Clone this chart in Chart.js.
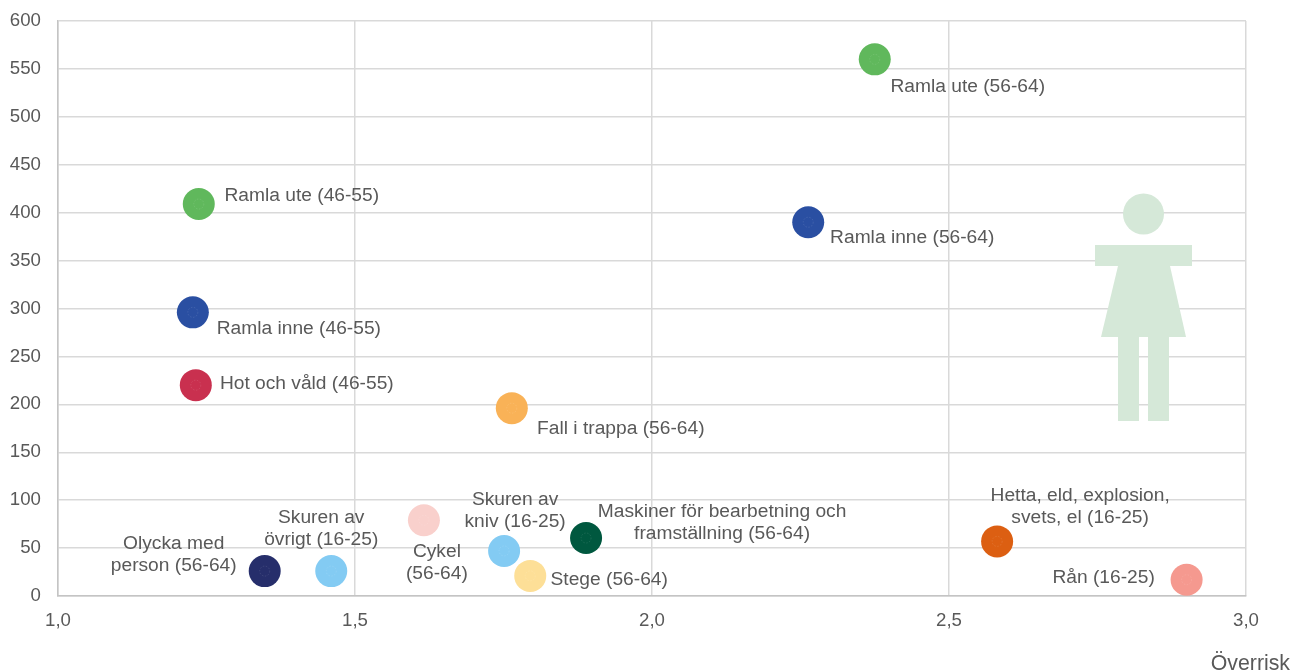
<!DOCTYPE html>
<html><head><meta charset="utf-8">
<style>html,body{margin:0;padding:0;background:#fff}canvas{display:block}</style>
<script src="https://cdn.jsdelivr.net/npm/chart.js@4"></script>
</head><body><canvas id="c" width="1293" height="672"></canvas>
<script>
const labels = [
  ["Ramla ute (56-64)"],["Ramla ute (46-55)"],["Ramla inne (56-64)"],["Ramla inne (46-55)"],
  ["Hot och våld (46-55)"],["Fall i trappa (56-64)"],["Cykel","(56-64)"],["Skuren av","kniv (16-25)"],
  ["Maskiner för bearbetning och","framställning (56-64)"],["Stege (56-64)"],["Skuren av","övrigt (16-25)"],
  ["Olycka med","person (56-64)"],["Hetta, eld, explosion,","svets, el (16-25)"],["Rån (16-25)"]
];
const overrisk = [2.375,1.237,2.263,1.227,1.232,1.764,1.616,1.751,1.889,1.795,1.46,1.348,2.581,2.90];
const antal = [560,409,390,296,220,196,79,47,60.5,21,26,26,57,17];
const colors = ["#60B85C","#60B85C","#2A4FA2","#2A4FA2","#C9304F","#F9B257","#F9D0CC","#83CBF3","#00583F","#FDDF97","#83CBF3","#262E6B","#DC5F12","#F5998F"];
const labelOffsets = [[93,27],[103,-8],[104,15],[106,16],[111,-1],[109,21],[13,42],[11,-40],[136,-15],[79,4],[-10,-42],[-91,-16],[83,-35],[-83,-2]];
const FONT = '19.2px "Liberation Sans", Arial, sans-serif';
const TEXT = '#595959';

const overlay = {
  id:'overlay',
  beforeDatasetsDraw(ch){
    const g=ch.ctx; g.save(); g.fillStyle='#D5E8D8';
    g.beginPath(); g.arc(1143.5,214,20.5,0,Math.PI*2); g.fill();
    g.fillRect(1095,245,97,21);
    g.beginPath(); g.moveTo(1118,266); g.lineTo(1170,266); g.lineTo(1186,337); g.lineTo(1101,337); g.closePath(); g.fill();
    g.fillRect(1118,337,21,84); g.fillRect(1148,337,21,84);
    g.restore();
  },
  afterDatasetsDraw(ch){
    const g=ch.ctx, pts=ch.getDatasetMeta(0).data;
    g.save();
    pts.forEach((p,i)=>{
      g.beginPath(); g.arc(p.x,p.y,5,0,Math.PI*2);
      g.strokeStyle='rgba(255,255,255,0.10)'; g.lineWidth=1; g.setLineDash([1.5,1.5]); g.stroke();
    });
    g.setLineDash([]);
    g.font=FONT; g.fillStyle=TEXT; g.textAlign='center'; g.textBaseline='middle';
    pts.forEach((p,i)=>{
      const L=labels[i], [dx,dy]=labelOffsets[i];
      L.forEach((t,k)=>g.fillText(t,p.x+dx,p.y+dy+(k-(L.length-1)/2)*22));
    });
    g.textAlign='right';
    g.font='21.3px "Liberation Sans", Arial, sans-serif';
    g.fillText('Överrisk',1290,664);
    g.restore();
  }
};

new Chart(document.getElementById('c'),{
  type:'scatter',
  data:{datasets:[{
    data:overrisk.map((x,i)=>({x,y:antal[i]})),
    backgroundColor:colors,borderColor:colors,borderWidth:0,pointRadius:16,pointHoverRadius:16,clip:false
  }]},
  options:{
    responsive:false,animation:false,
    layout:{padding:{left:0,top:21,right:47,bottom:0}},
    plugins:{legend:{display:false},tooltip:{enabled:false}},
    scales:{
      x:{type:'linear',min:1,max:3,afterFit(a){a.height=76;},
        afterBuildTicks(a){a.ticks=[1,1.5,2,2.5,3].map(v=>({value:v}));},
        grid:{color:'#D9D9D9',lineWidth:1.5,drawTicks:false},
        border:{color:'#C4C4C4',width:1.5},
        ticks:{font:{family:'"Liberation Sans", Arial, sans-serif',size:18.67},color:TEXT,padding:14,maxRotation:0,
          callback:v=>v.toFixed(1).replace('.',','),autoSkip:false}},
      y:{type:'linear',min:0,max:600,afterFit(a){a.width=58;a.paddingTop=0;a.paddingBottom=0;},
        grid:{color:'#D9D9D9',lineWidth:1.5,drawTicks:false},
        border:{color:'#C4C4C4',width:1.5},
        ticks:{stepSize:50,font:{family:'"Liberation Sans", Arial, sans-serif',size:18.67},color:TEXT,padding:17,autoSkip:false}}
    }
  },
  plugins:[overlay]
});
</script></body></html>
